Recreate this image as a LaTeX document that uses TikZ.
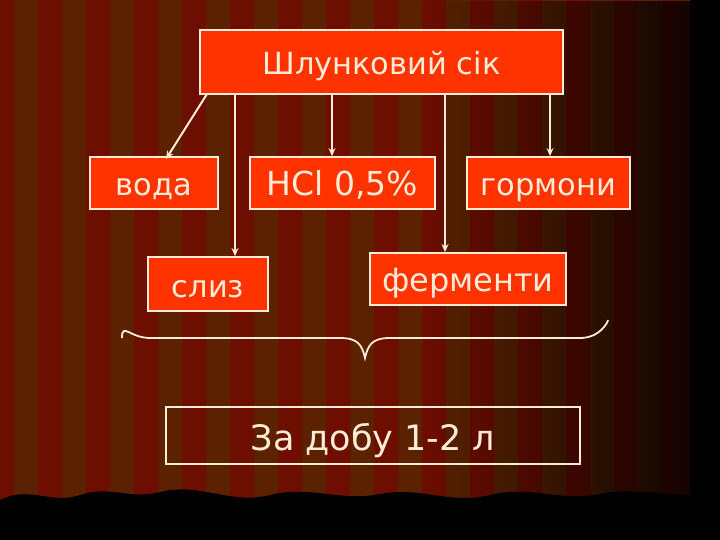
\documentclass[tikz,border=0pt]{standalone}
\usepackage{fontspec}
\setmainfont{DejaVu Sans}
\usetikzlibrary{fadings,arrows.meta}
\newcommand{\dn}[1]{\raisebox{-5pt}[0pt][0pt]{#1}}
\begin{document}
\begin{tikzpicture}[x=1pt,y=-1pt,
  box/.style={draw=cream,line width=1.8pt,fill=boxred,text=cream,inner sep=0pt,text height=22pt,text depth=6pt,font=\fontsize{30.5}{32}\selectfont},
  arr/.style={draw=cream,line width=2pt,-{Stealth[length=8pt,width=7pt]}}]
\definecolor{cream}{HTML}{FFEBD6}
\definecolor{boxred}{HTML}{FF3300}
\definecolor{sa}{HTML}{6E0E00}
\definecolor{sb}{HTML}{5C2200}
\useasboundingbox (0,0) rectangle (720,540);
\fill[sa] (0,0) rectangle (720,540);
\foreach \i in {0,...,15} {\fill[sb] (\i*48+14,0) rectangle (\i*48+38,540);}
\fill[black,path fading=west,opacity=0.9] (420,0) rectangle (720,540);
\fill[black] (690,0) rectangle (720,540);
\fill[black] (0,540) -- (0,500) .. controls (30,485) and (50,505) .. (80,495)
  .. controls (110,485) and (130,500) .. (160,492) .. controls (200,482) and (230,505) .. (270,495)
  .. controls (310,485) and (340,502) .. (380,494) .. controls (420,486) and (450,505) .. (490,495)
  .. controls (530,485) and (560,502) .. (600,494) .. controls (640,486) and (670,500) .. (720,492)
  -- (720,540) -- cycle;
\node[box,minimum width=363pt,minimum height=64pt,font=\fontsize{30.5}{32}\selectfont] (top) at (381.5,62) {\dn{Шлунковий сік}};
\node[box,minimum width=128pt,minimum height=52pt] (voda) at (154,183) {\dn{вода}};
\node[box,minimum width=185pt,minimum height=52pt,font=\fontsize{33}{35}\selectfont] (hcl) at (342.5,183) {\dn{HCl 0,5\%}};
\node[box,minimum width=163pt,minimum height=52pt] (gorm) at (548.5,183) {\dn{гормони}};
\node[box,minimum width=120pt,minimum height=54pt] (sliz) at (208,284) {\dn{слиз}};
\node[box,minimum width=196pt,minimum height=52pt,font=\fontsize{32}{34}\selectfont] (ferm) at (468,279) {\dn{ферменти}};
\node[draw=cream,line width=1.8pt,text=cream,inner sep=0pt,text height=26pt,text depth=7pt,minimum width=414pt,minimum height=57pt,font=\fontsize{35}{37}\selectfont] (day) at (373,435.5) {\dn{За добу 1-2 л}};
\coordinate (bl) at (207,94);
\draw[arr] (bl) -- (166,159);
\draw[arr] (235,94) -- (sliz.north -| 235,0);
\draw[arr] (332,94) -- (hcl.north -| 332,0);
\draw[arr] (445,94) -- (ferm.north -| 445,0);
\draw[arr] (550,94) -- (gorm.north -| 550,0);
\draw[cream,line width=1.8pt] (122,338) .. controls (122,322) and (130,338) .. (150,338)
  -- (340,338) .. controls (358,338) and (362,345) .. (365,358)
  .. controls (368,345) and (372,338) .. (390,338) -- (580,338)
  .. controls (600,338) and (608,322) .. (608,320);
\end{tikzpicture}
\end{document}
